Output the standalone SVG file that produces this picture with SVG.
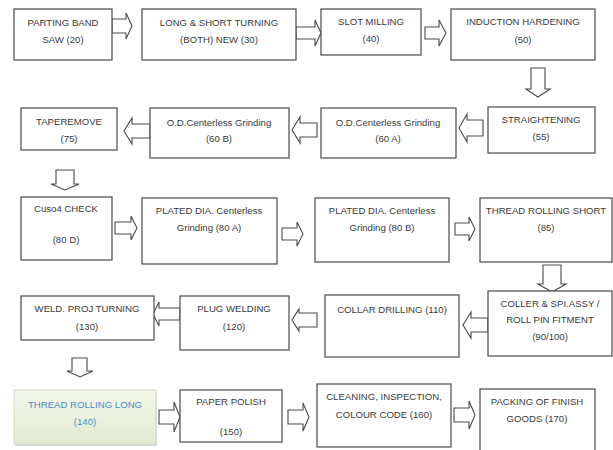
<svg xmlns="http://www.w3.org/2000/svg" width="613" height="450" viewBox="0 0 613 450">
<style>
.box{fill:#ffffff;stroke:#4a4a4a;stroke-width:1.2}
.arr{fill:#ffffff;stroke:#4a4a4a;stroke-width:1.1;stroke-linejoin:miter}
text{font-family:"Liberation Sans",Arial,sans-serif;font-size:9.6px;fill:#3a3a3a;text-anchor:middle}
.blue{fill:#4a8ec9}
</style>
<defs>
<linearGradient id="g140" x1="0" y1="0" x2="0" y2="1">
<stop offset="0" stop-color="#f2f6ea"/>
<stop offset="0.5" stop-color="#eaf1dd"/>
<stop offset="1" stop-color="#e3ebd3"/>
</linearGradient>
</defs>
<rect width="613" height="450" fill="#ffffff"/>

<g id="connectors">
<!-- right arrows: M x0,cy-sh H x1-hl V cy-hh L x1,cy L x1-hl,cy+hh V cy+sh H x0 Z -->
<path class="arr" d="M112,19 H126 V13 L132,26 L126,39 V33 H112 Z"/>
<path class="arr" d="M296,27 H315 V20 L321,33 L315,46 V39 H296 Z"/>
<path class="arr" d="M425,27 H439 V20 L446,33 L439,46 V39 H425 Z"/>
<path class="arr" d="M531,68 V89 H526 L538,97 L550,89 H545 V68 Z"/>
<path class="arr" d="M483,120 H467 V114 L459,128 L467,142 V136 H483 Z"/>
<path class="arr" d="M317,123 H300 V117 L292,130 L300,143 V137 H317 Z"/>
<path class="arr" d="M150,124 H132 V118 L124,131 L132,144 V138 H150 Z"/>
<path class="arr" d="M56,170 V184 H51 L65,190 L79,184 H74 V170 Z"/>
<path class="arr" d="M115,222 H131 V216 L137,228 L131,240 V234 H115 Z"/>
<path class="arr" d="M282,228 H297 V222 L303,234 L297,246 V240 H282 Z"/>
<path class="arr" d="M455,223 H469 V217 L475,229 L469,241 V235 H455 Z"/>
<path class="arr" d="M543,265 V284 H538 L552,292 L566,284 H561 V265 Z"/>
<path class="arr" d="M488,318 H471 V312 L463,325 L471,338 V332 H488 Z"/>
<path class="arr" d="M317,313 H299 V309 L292,320 L299,331 V327 H317 Z"/>
<path class="arr" d="M180,308 H159 V302 L153,314 L159,326 V320 H180 Z"/>
<path class="arr" d="M72,358 V371 H67 L80,377 L93,371 H87 V358 Z"/>
<path class="arr" d="M159,410 H174 V402 L180,417 L174,432 V424 H159 Z"/>
<path class="arr" d="M288,410 H303 V403 L309,417 L303,431 V424 H288 Z"/>
<path class="arr" d="M454,408 H469 V401 L475,415 L469,429 V422 H454 Z"/>
</g>

<g id="n20"><rect class="box" x="14" y="9" width="98" height="51"/><text x="63" y="26">PARTING BAND</text><text x="63" y="43">SAW  (20)</text></g>
<g id="n30"><rect class="box" x="142" y="9" width="154" height="51"/><text x="219" y="26">LONG &amp; SHORT TURNING</text><text x="219" y="43">(BOTH) NEW (30)</text></g>
<g id="n40"><rect class="box" x="321" y="9" width="100" height="46"/><text x="371" y="25">SLOT MILLING</text><text x="371" y="42">(40)</text></g>
<g id="n50"><rect class="box" x="451" y="9" width="144" height="51"/><text x="523" y="25">INDUCTION HARDENING</text><text x="523" y="43">(50)</text></g>
<g id="n55"><rect class="box" x="488" y="107" width="107" height="46"/><text x="541" y="123">STRAIGHTENING</text><text x="541" y="140">(55)</text></g>
<g id="n60a"><rect class="box" x="321" y="108" width="135" height="50"/><text x="388" y="126">O.D.Centerless Grinding</text><text x="388" y="142">(60 A)</text></g>
<g id="n60b"><rect class="box" x="150" y="108" width="139" height="50"/><text x="219" y="126">O.D.Centerless Grinding</text><text x="219" y="142">(60 B)</text></g>
<g id="n75"><rect class="box" x="21" y="108" width="96" height="42"/><text x="69" y="125">TAPEREMOVE</text><text x="69" y="142">(75)</text></g>
<g id="n80d"><rect class="box" x="21" y="197" width="91" height="63"/><text x="66" y="212">Cuso4 CHECK</text><text x="66" y="243">(80 D)</text></g>
<g id="n80a"><rect class="box" x="142" y="198" width="135" height="66"/><text x="209" y="214">PLATED DIA. Centerless</text><text x="209" y="231">Grinding (80 A)</text></g>
<g id="n80b"><rect class="box" x="315" y="198" width="134" height="64"/><text x="382" y="214">PLATED DIA. Centerless</text><text x="382" y="231">Grinding (80 B)</text></g>
<g id="n85"><rect class="box" x="480" y="198" width="132" height="64"/><text x="546" y="214">THREAD ROLLING SHORT</text><text x="546" y="231">(85)</text></g>
<g id="n90"><rect class="box" x="488" y="291" width="124" height="65"/><text x="550" y="307">COLLER &amp; SPI.ASSY /</text><text x="550" y="323">ROLL PIN FITMENT</text><text x="550" y="340">(90/100)</text></g>
<g id="n110"><rect class="box" x="325" y="295" width="134" height="62"/><text x="392" y="313">COLLAR DRILLING (110)</text></g>
<g id="n120"><rect class="box" x="180" y="296" width="109" height="54"/><text x="234" y="312">PLUG WELDING</text><text x="234" y="330">(120)</text></g>
<g id="n130"><rect class="box" x="21" y="296" width="133" height="44"/><text x="87" y="312">WELD. PROJ TURNING</text><text x="87" y="330">(130)</text></g>
<g id="n140"><rect x="15" y="392" width="142" height="54" fill="#c8c8c8" opacity="0.7"/><rect x="14" y="390" width="142" height="54" fill="url(#g140)" stroke="#d3dcc6" stroke-width="1"/><text class="blue" x="85" y="408">THREAD ROLLING LONG</text><text class="blue" x="85" y="425">(140)</text></g>
<g id="n150"><rect class="box" x="180" y="390" width="102" height="52"/><text x="231" y="405">PAPER POLISH</text><text x="231" y="435">(150)</text></g>
<g id="n160"><rect class="box" x="317" y="384" width="134" height="63"/><text x="384" y="400">CLEANING, INSPECTION,</text><text x="384" y="418">COLOUR CODE (160)</text></g>
<g id="n170"><rect class="box" x="480" y="389" width="115" height="70"/><text x="537" y="405">PACKING OF FINISH</text><text x="537" y="422">GOODS (170)</text></g>
</svg>
